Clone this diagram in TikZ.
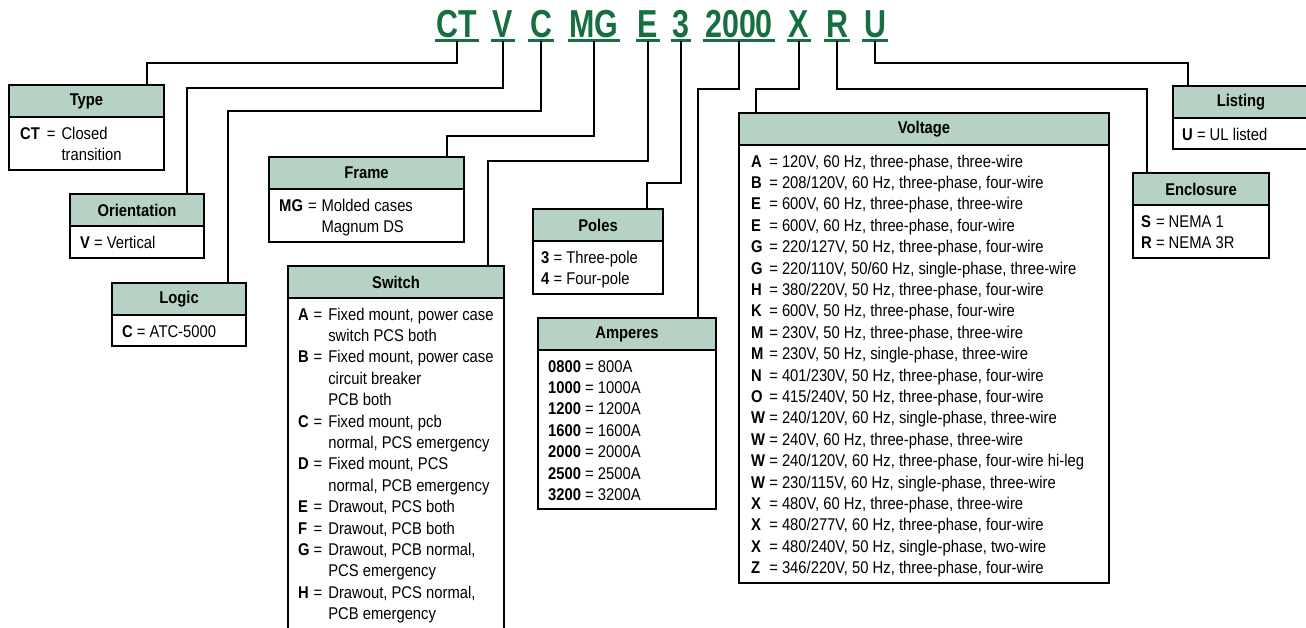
\documentclass[tikz,border=0pt]{standalone}
\usepackage{fontspec}
\setmainfont[FakeStretch=0.87]{Liberation Sans}
\newfontfamily\codefont[FakeStretch=0.78]{Liberation Sans}
\usepackage{tikz}
\usetikzlibrary{positioning}
\definecolor{codegreen}{RGB}{23,110,64}
\definecolor{headgreen}{RGB}{182,210,196}
\newcommand\bodysize{\fontsize{17}{21.4}\selectfont}
\tikzset{
  code/.style={anchor=base, text=codegreen, inner xsep=1.5pt, inner ysep=0pt,
    text depth=3.5pt, font=\codefont\fontsize{39}{39}\selectfont\bfseries},
  uline/.style={draw=codegreen, line width=3pt},
  head/.style={draw, line width=1.2pt, fill=headgreen, anchor=north west,
    minimum height=32pt, inner sep=0pt, outer sep=0pt, font=\bodysize\bfseries},
  frame/.style={draw, line width=1.2pt, inner sep=0pt, outer sep=0pt},
  entry/.style={anchor=base west, inner sep=0pt, font=\bodysize},
  link/.style={line width=2pt},
}

\begin{document}
\begin{tikzpicture}[x=1pt, y=-1pt]
  \useasboundingbox (0,0) rectangle (1306,627);
  % catalog number
  \node[code] (cCT) at (457,37) {CT};
  \node[code] (cV) at (503,37) {V};
  \node[code] (cC) at (541,37) {C};
  \node[code] (cMG) at (594,37) {MG};
  \node[code] (cE) at (648,37) {E};
  \node[code] (c3) at (681,37) {3};
  \node[code] (c2000) at (739,37) {2000};
  \node[code] (cX) at (799,37) {X};
  \node[code] (cR) at (837,37) {R};
  \node[code] (cU) at (875,37) {U};
  \foreach \c in {cCT,cV,cC,cMG,cE,c3,c2000,cX,cR,cU}
    \draw[uline] (\c.south west) -- (\c.south east);

  % Type
  \node[head, minimum width=155pt] (typeH) at (9,85) {Type};
  \node[frame, below=0pt of typeH, minimum width=155pt, minimum height=53pt] (typeB) {};
  \node[entry] (typeT) at ([shift={(11,22)}]typeH.south west)
    {\begin{tabular}[t]{@{}l@{\hspace{7pt}}c@{\hspace{6pt}}l@{}}
      \textbf{CT} & = & Closed\\ & & transition\end{tabular}};

  % Orientation
  \node[head, minimum width=134pt] (oriH) at (70,194) {Orientation};
  \node[frame, below=0pt of oriH, minimum width=134pt, minimum height=32pt] (oriB) {};
  \node[entry] (oriT) at ([shift={(10,22)}]oriH.south west) {\textbf{V} = Vertical};

  % Logic
  \node[head, minimum width=134pt] (logH) at (112,283) {Logic};
  \node[frame, below=0pt of logH, minimum width=134pt, minimum height=31pt] (logB) {};
  \node[entry] (logT) at ([shift={(10,22)}]logH.south west) {\textbf{C} = ATC-5000};

  % Frame
  \node[head, minimum width=195pt] (frmH) at (269,157) {Frame};
  \node[frame, below=0pt of frmH, minimum width=195pt, minimum height=53pt] (frmB) {};
  \node[entry] (frmT) at ([shift={(10,22)}]frmH.south west)
    {\begin{tabular}[t]{@{}l@{\hspace{5pt}}c@{\hspace{5pt}}l@{}}
      \textbf{MG} & = & Molded cases\\ & & Magnum DS\end{tabular}};

  % Switch
  \node[head, minimum width=216pt] (swH) at (288,266) {Switch};
  \node[frame, below=0pt of swH, minimum width=216pt, minimum height=345pt] (swB) {};
  \node[entry] (swT) at ([shift={(10,22)}]swH.south west)
    {\begin{tabular}[t]{@{}l@{\hspace{4pt}}c@{\hspace{6pt}}l@{}}
      \textbf{A} & = & Fixed mount, power case\\
       & & switch PCS both\\
      \textbf{B} & = & Fixed mount, power case\\
       & & circuit breaker\\
       & & PCB both\\
      \textbf{C} & = & Fixed mount, pcb\\
       & & normal, PCS emergency\\
      \textbf{D} & = & Fixed mount, PCS\\
       & & normal, PCB emergency\\
      \textbf{E} & = & Drawout, PCS both\\
      \textbf{F} & = & Drawout, PCB both\\
      \textbf{G} & = & Drawout, PCB normal,\\
       & & PCS emergency\\
      \textbf{H} & = & Drawout, PCS normal,\\
       & & PCB emergency
    \end{tabular}};

  % Poles
  \node[head, minimum width=130pt] (polH) at (533,209) {Poles};
  \node[frame, below=0pt of polH, minimum width=130pt, minimum height=53pt] (polB) {};
  \node[entry] (polT) at ([shift={(8,22)}]polH.south west)
    {\begin{tabular}[t]{@{}l@{ = }l@{}}
      \textbf{3} & Three-pole\\ \textbf{4} & Four-pole\end{tabular}};

  % Amperes
  \node[head, minimum width=178pt] (ampH) at (538,318) {Amperes};
  \node[frame, below=0pt of ampH, minimum width=178pt, minimum height=159pt] (ampB) {};
  \node[entry] (ampT) at ([shift={(10,22)}]ampH.south west)
    {\begin{tabular}[t]{@{}l@{ = }l@{}}
      \textbf{0800} & 800A\\ \textbf{1000} & 1000A\\ \textbf{1200} & 1200A\\
      \textbf{1600} & 1600A\\ \textbf{2000} & 2000A\\ \textbf{2500} & 2500A\\
      \textbf{3200} & 3200A\end{tabular}};

  % Voltage
  \node[head, minimum width=370pt] (volH) at (739,113) {Voltage};
  \node[frame, below=0pt of volH, minimum width=370pt, minimum height=438pt] (volB) {};
  \node[entry] (volT) at ([shift={(12,22)}]volH.south west)
    {\begin{tabular}[t]{@{}l@{ = }l@{}}
      \textbf{A} & 120V, 60 Hz, three-phase, three-wire\\
      \textbf{B} & 208/120V, 60 Hz, three-phase, four-wire\\
      \textbf{E} & 600V, 60 Hz, three-phase, three-wire\\
      \textbf{E} & 600V, 60 Hz, three-phase, four-wire\\
      \textbf{G} & 220/127V, 50 Hz, three-phase, four-wire\\
      \textbf{G} & 220/110V, 50/60 Hz, single-phase, three-wire\\
      \textbf{H} & 380/220V, 50 Hz, three-phase, four-wire\\
      \textbf{K} & 600V, 50 Hz, three-phase, four-wire\\
      \textbf{M} & 230V, 50 Hz, three-phase, three-wire\\
      \textbf{M} & 230V, 50 Hz, single-phase, three-wire\\
      \textbf{N} & 401/230V, 50 Hz, three-phase, four-wire\\
      \textbf{O} & 415/240V, 50 Hz, three-phase, four-wire\\
      \textbf{W} & 240/120V, 60 Hz, single-phase, three-wire\\
      \textbf{W} & 240V, 60 Hz, three-phase, three-wire\\
      \textbf{W} & 240/120V, 60 Hz, three-phase, four-wire hi-leg\\
      \textbf{W} & 230/115V, 60 Hz, single-phase, three-wire\\
      \textbf{X} & 480V, 60 Hz, three-phase, three-wire\\
      \textbf{X} & 480/277V, 60 Hz, three-phase, four-wire\\
      \textbf{X} & 480/240V, 50 Hz, single-phase, two-wire\\
      \textbf{Z} & 346/220V, 50 Hz, three-phase, four-wire
    \end{tabular}};

  % Enclosure
  \node[head, minimum width=136pt] (encH) at (1133,173) {Enclosure};
  \node[frame, below=0pt of encH, minimum width=136pt, minimum height=53pt] (encB) {};
  \node[entry] (encT) at ([shift={(8,22)}]encH.south west)
    {\begin{tabular}[t]{@{}l@{ = }l@{}}
      \textbf{S} & NEMA 1\\ \textbf{R} & NEMA 3R\end{tabular}};

  % Listing
  \node[head, minimum width=136pt] (lstH) at (1173,86) {Listing};
  \node[frame, below=0pt of lstH, minimum width=136pt, minimum height=31pt] (lstB) {};
  \node[entry] (lstT) at ([shift={(9,22)}]lstH.south west) {\textbf{U} = UL listed};

  % leader lines
  \draw[link] (cCT.south) -- (cCT.south |- 0,63) -| ([xshift=138pt]typeH.north west);
  \draw[link] (cV.south) -- (cV.south |- 0,88) -| ([xshift=117pt]oriH.north west);
  \draw[link] (cC.south) -- (cC.south |- 0,111) -| ([xshift=116pt]logH.north west);
  \draw[link] (cMG.south) -- (cMG.south |- 0,136) -| ([xshift=178pt]frmH.north west);
  \draw[link] (cE.south) -- (cE.south |- 0,161) -| ([xshift=200pt]swH.north west);
  \draw[link] (c3.south) -- (c3.south |- 0,183) -| ([xshift=114pt]polH.north west);
  \draw[link] (c2000.south) -- (c2000.south |- 0,89) -| ([xshift=160pt]ampH.north west);
  \draw[link] (cX.south) -- (cX.south |- 0,89) -| ([xshift=17pt]volH.north west);
  \draw[link] (cR.south) -- (cR.south |- 0,89) -| ([xshift=14pt]encH.north west);
  \draw[link] (cU.south) -- (cU.south |- 0,63) -| ([xshift=15pt]lstH.north west);
\end{tikzpicture}
\end{document}
